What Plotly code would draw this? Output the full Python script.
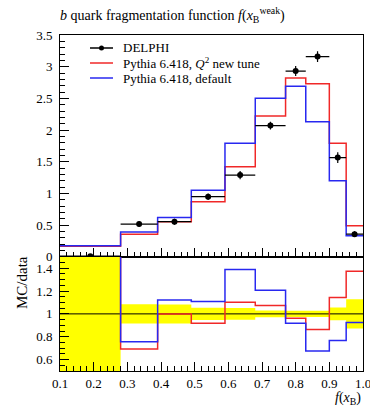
import plotly.graph_objects as go

# ---- data ----
bin_edges = [0.1, 0.28, 0.39, 0.49, 0.59, 0.68, 0.77, 0.83, 0.90, 0.95, 1.0]
delphi = [0.010, 0.516, 0.553, 0.948, 1.29, 2.07, 2.93, 3.16, 1.565, 0.357]
delphi_err = [0.012, 0.043, 0.046, 0.051, 0.065, 0.062, 0.079, 0.085, 0.086, 0.046]
pythia_q2 = [0.165, 0.357, 0.553, 0.87, 1.42, 2.22, 2.82, 2.73, 1.79, 0.49]
pythia_default = [0.172, 0.39, 0.62, 1.05, 1.79, 2.50, 2.69, 2.13, 1.20, 0.33]
ratio_ref = 1.0

centers = [(a + b) / 2 for a, b in zip(bin_edges[:-1], bin_edges[1:])]
halfw = [(b - a) / 2 for a, b in zip(bin_edges[:-1], bin_edges[1:])]

def step(vals):
    return list(vals) + [vals[-1]]

rel = [e / v for e, v in zip(delphi_err, delphi)]
r_q2 = [m / d for m, d in zip(pythia_q2, delphi)]
r_def = [m / d for m, d in zip(pythia_default, delphi)]

RED = "#f02828"
BLUE = "#2828f0"
YEL = "#ffff00"
FONT = "Liberation Serif"

fig = go.Figure()

# ---- top panel ----
fig.add_trace(go.Scatter(x=bin_edges, y=step(pythia_q2), mode="lines", line_shape="hv",
                         line=dict(color=RED, width=1.5), xaxis="x", yaxis="y", showlegend=False))
fig.add_trace(go.Scatter(x=bin_edges, y=step(pythia_default), mode="lines", line_shape="hv",
                         line=dict(color=BLUE, width=1.5), xaxis="x", yaxis="y", showlegend=False))
fig.add_trace(go.Scatter(x=centers, y=delphi, mode="markers",
                         marker=dict(color="black", size=6),
                         error_x=dict(type="data", array=halfw, color="black", thickness=1.2, width=0),
                         error_y=dict(type="data", array=delphi_err, color="black", thickness=1.2, width=0),
                         xaxis="x", yaxis="y", showlegend=False, cliponaxis=False))

# ---- ratio panel ----
fig.add_trace(go.Scatter(x=bin_edges, y=step([1 - r for r in rel]), mode="lines", line_shape="hv",
                         line=dict(width=0, color=YEL), xaxis="x2", yaxis="y2", showlegend=False))
fig.add_trace(go.Scatter(x=bin_edges, y=step([1 + r for r in rel]), mode="lines", line_shape="hv",
                         line=dict(width=0, color=YEL), fill="tonexty", fillcolor=YEL,
                         xaxis="x2", yaxis="y2", showlegend=False))
fig.add_trace(go.Scatter(x=[bin_edges[0], bin_edges[-1]], y=[ratio_ref, ratio_ref], mode="lines",
                         line=dict(color="black", width=1), xaxis="x2", yaxis="y2", showlegend=False))
fig.add_trace(go.Scatter(x=bin_edges, y=step(r_q2), mode="lines", line_shape="hv",
                         line=dict(color=RED, width=1.5), xaxis="x2", yaxis="y2", showlegend=False))
fig.add_trace(go.Scatter(x=bin_edges, y=step(r_def), mode="lines", line_shape="hv",
                         line=dict(color=BLUE, width=1.5), xaxis="x2", yaxis="y2", showlegend=False))

axis_common = dict(showline=True, linecolor="black", linewidth=1, mirror=True,
                   ticks="inside", tickcolor="black", showgrid=False, zeroline=False,
                   ticklabeloverflow="allow", automargin=False,
                   tickfont=dict(family=FONT, size=13, color="black"))

fig.update_layout(
    width=370, height=406,
    margin=dict(l=60, r=7, t=35, b=35, autoexpand=False),
    paper_bgcolor="white", plot_bgcolor="white",
    font=dict(family=FONT, size=13, color="black"),
    xaxis=dict(domain=[0, 1], range=[0.1, 1.0], anchor="y", matches="x2",
               dtick=0.1, tick0=0.1, ticklen=9, showticklabels=False,
               minor=dict(dtick=0.02, ticklen=5, ticks="inside", tickcolor="black"),
               **axis_common),
    yaxis=dict(domain=[0.34, 1], range=[0, 3.5], anchor="x", dtick=0.5, ticklen=9,
               minor=dict(dtick=0.1, ticklen=5, ticks="inside", tickcolor="black"),
               ticklabelstandoff=4, **axis_common),
    xaxis2=dict(domain=[0, 1], range=[0.1, 1.0], anchor="y2", dtick=0.1, tick0=0.1,
                tickformat=".1f", ticklen=9,
                minor=dict(dtick=0.02, ticklen=5, ticks="inside", tickcolor="black"),
                **axis_common),
    yaxis2=dict(domain=[0, 0.34], range=[0.5, 1.5], anchor="x2", dtick=0.2, tick0=0.6, ticklen=9,
                minor=dict(dtick=0.05, ticklen=5, ticks="inside", tickcolor="black"),
                ticklabelstandoff=4, **axis_common),
    title=dict(text="<i>b</i> quark fragmentation function <i>f</i>(<i>x</i><sub>B</sub><sup>weak</sup>)",
               x=60 / 370, xanchor="left", y=1 - 15 / 406, yanchor="middle",
               font=dict(family=FONT, size=14, color="black")),
)

# ---- manual legend ----
PW, PH, L0, B0 = 303.0, 336.0, 60.0, 371.0
def px(x): return (x - L0) / PW
def py(y): return (B0 - y) / PH

legend_items = [("DELPHI", "black", True),
                ("Pythia 6.418, <i>Q</i><sup>2</sup> new tune", RED, False),
                ("Pythia 6.418, default", BLUE, False)]
rows = [48, 63, 78]
for (label, col, dot), ry in zip(legend_items, rows):
    fig.add_shape(type="line", xref="paper", yref="paper", x0=px(90), x1=px(113),
                  y0=py(ry), y1=py(ry), line=dict(color=col, width=1.5))
    if dot:
        fig.add_shape(type="circle", xref="paper", yref="paper", x0=px(99), x1=px(104),
                      y0=py(ry + 2.5), y1=py(ry - 2.5), fillcolor="black", line=dict(color="black", width=0))
    fig.add_annotation(text=label, xref="paper", yref="paper", x=px(121), y=py(ry),
                       xanchor="left", yanchor="middle", showarrow=False,
                       font=dict(family=FONT, size=13, color="black"))

fig.add_annotation(text="MC/data", xref="paper", yref="paper", x=px(22), y=py(283),
                   xanchor="center", yanchor="middle", textangle=-90, showarrow=False,
                   font=dict(family=FONT, size=15, color="black"))
fig.add_annotation(text="<i>f</i>(<i>x</i><sub>B</sub>)", xref="paper", yref="paper", x=px(363), y=py(398),
                   xanchor="right", yanchor="middle", showarrow=False,
                   font=dict(family=FONT, size=14, color="black"))

fig.write_html("out.html", config={"displayModeBar": False},
               post_script="document.body.style.margin='0';document.body.style.overflow='hidden';")
